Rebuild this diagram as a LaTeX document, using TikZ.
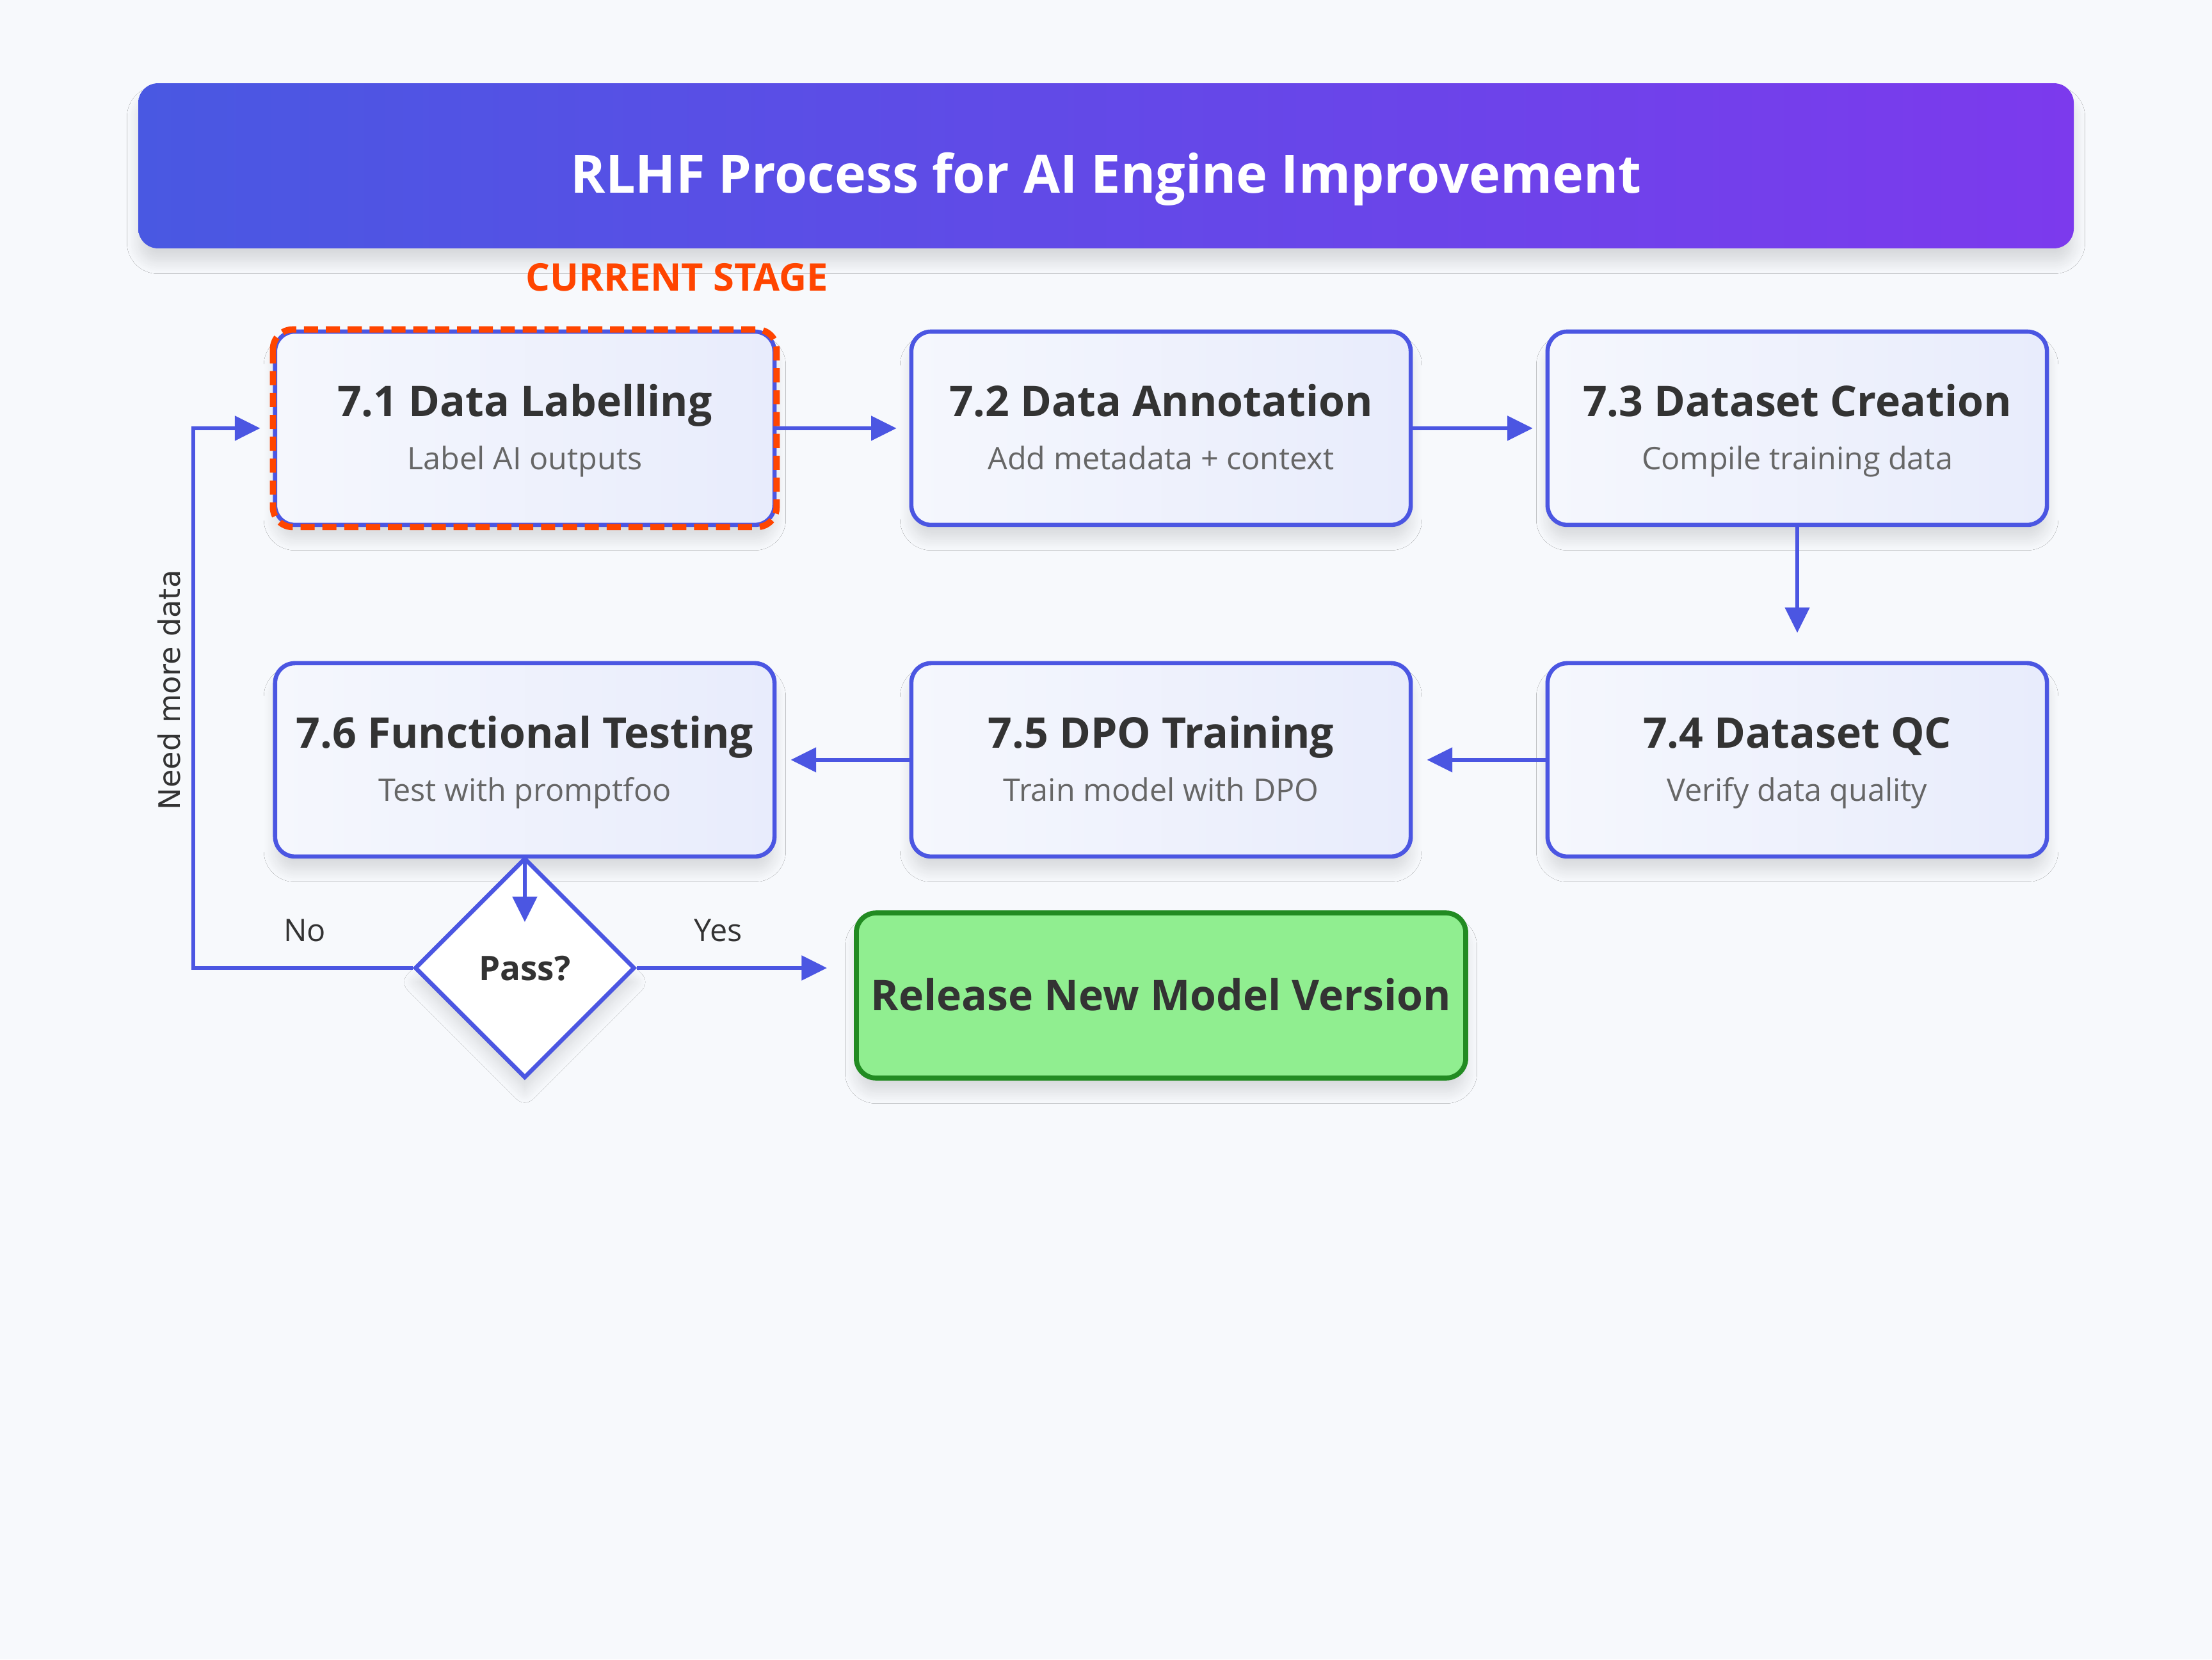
\documentclass[tikz,border=0pt]{standalone}
\usepackage{fontspec}
\setmainfont{Open Sans}
\newfontfamily\dejavu{DejaVu Sans}
\usetikzlibrary{shapes.geometric,arrows.meta,shadows.blur,calc}
\definecolor{bg}{RGB}{247,249,252}
\definecolor{flowblue}{RGB}{75,86,226}
\definecolor{curorange}{RGB}{255,69,0}
\definecolor{txtdark}{RGB}{51,51,51}
\definecolor{txtgray}{RGB}{102,102,102}
\definecolor{relfill}{RGB}{144,238,144}
\definecolor{reldraw}{RGB}{34,139,34}
\definecolor{tleft}{RGB}{73,88,226}
\definecolor{tright}{RGB}{124,58,237}
\definecolor{boxa}{RGB}{245,247,253}
\definecolor{boxb}{RGB}{232,236,252}
\newcommand{\fsz}[1]{\fontsize{#1}{#1}\selectfont}
\begin{document}
\begin{tikzpicture}[x=1pt,y=-1pt,
  softshadow/.style={blur shadow={shadow xshift=0pt,shadow yshift=-10pt,shadow opacity=12,shadow blur steps=12,shadow blur radius=8pt}},
  stagebox/.style={rectangle,rounded corners=14pt,draw=flowblue,line width=3pt,minimum width=354pt,minimum height=137pt,inner sep=0pt,left color=boxa,right color=boxb,softshadow},
  stitle/.style={anchor=base,text=txtdark,font=\bfseries\fsz{30}},
  ssub/.style={anchor=base,text=txtgray,font=\fsz{22}},
  flow/.style={draw=flowblue,line width=3pt,-{Triangle[length=18pt,width=17pt]}},
  edgelabel/.style={anchor=base,text=txtdark,font=\fsz{22}}]
\fill[bg] (0,0) rectangle (1568,1176);
\useasboundingbox (0,0) rectangle (1568,1176);
% title
\node[rectangle,rounded corners=14pt,minimum width=1372pt,minimum height=117pt,inner sep=0pt,left color=tleft,right color=tright,softshadow] (title) at (784,117.5) {};
\node[anchor=base,text=white,font=\bfseries\fsz{37.5}] (titletxt) at (784,137) {RLHF Process for AI Engine Improvement};
\node[anchor=base,text=curorange,font=\bfseries\fsz{27}] (cur) at (480,206) {CURRENT STAGE};
% boxes
\node[stagebox] (b1) at (372,303.5) {};
\node[stagebox] (b2) at (823,303.5) {};
\node[stagebox] (b3) at (1274,303.5) {};
\node[stagebox] (b4) at (1274,538.5) {};
\node[stagebox] (b5) at (823,538.5) {};
\node[stagebox] (b6) at (372,538.5) {};
\draw[curorange,line width=4.5pt,dash pattern=on 10pt off 5.5pt,rounded corners=14pt] (b1.north west) rectangle (b1.south east);
\node[stitle] (t1) at (372,295) {7.1 Data Labelling};
\node[ssub] (s1) at (372,333) {Label AI outputs};
\node[stitle] (t2) at (823,295) {7.2 Data Annotation};
\node[ssub] (s2) at (823,333) {Add metadata + context};
\node[stitle] (t3) at (1274,295) {7.3 Dataset Creation};
\node[ssub] (s3) at (1274,333) {Compile training data};
\node[stitle] (t4) at (1274,530) {7.4 Dataset QC};
\node[ssub] (s4) at (1274,568) {Verify data quality};
\node[stitle] (t5) at (823,530) {7.5 DPO Training};
\node[ssub] (s5) at (823,568) {Train model with DPO};
\node[stitle] (t6) at (372,530) {7.6 Functional Testing};
\node[ssub] (s6) at (372,568) {Test with promptfoo};
% decision
\node[diamond,aspect=1,minimum width=156pt,minimum height=156pt,inner sep=0pt,draw=flowblue,line width=3pt,fill=white,softshadow] (d) at (372,686) {};
\node[anchor=base,text=txtdark,font=\bfseries\fsz{24}] (dtxt) at (372,695) {Pass?};
% release
\node[rectangle,rounded corners=14pt,draw=reldraw,line width=3.5pt,fill=relfill,minimum width=432pt,minimum height=117pt,inner sep=0pt,softshadow] (rel) at (823,705.5) {};
\node[anchor=base,text=txtdark,font=\bfseries\fsz{30}] (reltxt) at (823,716) {Release New Model Version};
% connectors
\draw[flow,shorten >=9pt] (b1.east) -- (b2.west);
\draw[flow,shorten >=9pt] (b2.east) -- (b3.west);
\draw[flow,shorten >=20pt] (b3.south) -- (b4.north);
\draw[flow,shorten >=10pt] (b4.west) -- (b5.east);
\draw[flow,shorten >=10pt] (b5.west) -- (b6.east);
\draw[flow] (b6.south) -- ($(d.north)+(0,47)$);
\coordinate (nocorner) at (137,686);
\draw[flow,shorten >=9pt] (d.west) -- (nocorner) |- (b1.west);
\draw[flow,shorten >=19pt] (d.east) -- (d.east -| rel.west);
\node[edgelabel] (nolab) at (216,667) {No};
\node[edgelabel] (yeslab) at (509,667) {Yes};
\node[rotate=90,text=txtdark,font=\dejavu\fsz{21}] (need) at (120,489) {Need more data};
\end{tikzpicture}
\end{document}
